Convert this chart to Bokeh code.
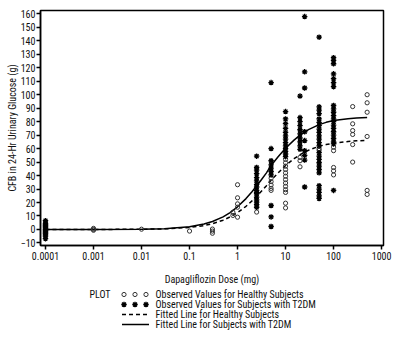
from bokeh.plotting import figure
from bokeh.layouts import column
from bokeh.models import FixedTicker, Range1d
from bokeh.core.properties import value
from bokeh.embed import file_html
from bokeh.resources import INLINE

FONT = "'Roboto Condensed', 'Liberation Sans Narrow', 'DejaVu Sans Condensed', sans-serif"

# ---- observed values: healthy subjects (dose in mg, change from baseline in g) ----
healthy_dose = (
    [0.0001] * 10 + [0.001] * 3 + [0.01] + [0.1] + [0.3] * 3 + [0.8] * 2
    + [1] * 5 + [2.5] + [5] * 5 + [10] * 13 + [20] * 3 + [50] * 2
    + [100] * 5 + [250] * 6 + [500] * 6
)
healthy_cfb = (
    [5.5, 4.0, 3.0, 2.0, 1.0, 0.0, -1.0, -2.0, -3.0, -4.5]
    + [0.8, 0.0, -0.6]
    + [0.2]
    + [-1.2]
    + [0.3, -1.2, -2.8]
    + [12.8, 10.4]
    + [33.2, 23.5, 19.0, 16.5, 9.1]
    + [12.9]
    + [38.0, 35.5, 33.0, 30.5, 29.0]
    + [52.0, 49.5, 47.0, 44.5, 42.0, 39.5, 37.0, 34.5, 32.0, 29.5, 27.5, 19.5, 16.0]
    + [53.5, 51.0, 46.5]
    + [60.0, 58.8]
    + [61.0, 58.5, 46.0, 43.5, 40.5]
    + [91.2, 78.4, 73.4, 70.5, 63.0, 50.0]
    + [100.0, 94.0, 87.0, 69.0, 29.0, 26.0]
)

# ---- observed values: subjects with T2DM ----
t2dm_dose = (
    [0.0001] * 12 + [2.5] * 16 + [5] * 10 + [10] * 13 + [20] * 10
    + [25] * 9 + [50] * 25 + [100] * 21
)
t2dm_cfb = (
    [6.5, 4.5, 3.5, 2.5, 1.5, 0.5, -0.5, -1.5, -2.5, -3.5, -5.0, -6.8]
    + [54.4, 46.0, 44.0, 41.5, 38.5, 36.0, 33.5, 31.5, 29.0, 27.5, 26.5, 24.0,
       22.0, 20.3, 18.5, 16.5]
    + [109.0, 60.0, 51.0, 48.0, 45.5, 43.0, 40.5, 17.8, 9.3, 2.2]
    + [87.5, 82.0, 78.5, 75.0, 72.0, 69.5, 67.0, 64.5, 62.0, 60.0, 58.0, 56.0, 54.0]
    + [99.0, 83.0, 80.0, 77.0, 74.0, 71.0, 68.0, 65.0, 62.0, 59.5]
    + [158.0, 117.0, 105.0, 72.5, 66.0, 58.5, 55.0, 51.5, 31.5]
    + [142.7, 91.0, 88.5, 86.0, 82.0, 79.5, 77.0, 74.5, 72.0, 69.5, 67.0, 64.5,
       62.0, 57.0, 54.5, 52.0, 49.5, 47.0, 44.5, 42.0, 32.5, 30.0, 27.5, 25.0, 23.0]
    + [127.5, 125.5, 123.0, 115.5, 112.0, 109.0, 106.0, 92.0, 89.5, 87.0, 84.5,
       82.0, 80.0, 77.5, 75.0, 72.5, 70.0, 67.5, 65.0, 63.5, 29.0]
)

# ---- fitted Emax curves, read at a set of doses ----
curve_dose = [0.0001, 0.001, 0.01, 0.03, 0.1, 0.2, 0.3, 0.5, 0.7, 1, 1.5, 2, 3, 4,
              5, 7, 10, 15, 20, 30, 50, 70, 100, 200, 300, 500]
fit_t2dm = [0.0, 0.0, 0.2, 0.6, 2.0, 4.0, 5.9, 9.3, 12.5, 16.8, 22.9, 28.0, 36.0, 42.0,
            47.5, 54.0, 60.3, 66.3, 70.0, 74.1, 77.8, 79.5, 80.8, 82.2, 82.7, 83.0]
fit_healthy = [0.0, 0.0, 0.15, 0.45, 1.5, 2.9, 4.3, 6.9, 9.3, 12.5, 17.2, 21.2, 27.6,
               32.5, 36.5, 42.0, 47.5, 52.5, 55.5, 58.8, 61.8, 63.0, 64.0, 65.3, 65.8, 66.1]

# ---- axis ticks ----
x_ticks = [0.0001, 0.001, 0.01, 0.1, 1, 10, 100, 1000]
x_tick_labels = ["0.0001", "0.001", "0.01", "0.1", "1", "10", "100", "1000"]
y_ticks = list(range(-10, 161, 10))

BORDER_L, BORDER_R = 40, 17
W = 400
H_PLOT, H_LEGEND = 287, 50

p = figure(width=W, height=H_PLOT, x_axis_type="log",
           x_range=Range1d(10 ** -4.104, 10 ** 3.04), y_range=Range1d(-11.9, 162.5),
           output_backend="svg", toolbar_location=None,
           min_border_left=BORDER_L, min_border_right=BORDER_R,
           min_border_top=10, min_border_bottom=42)
p.xgrid.visible = False
p.ygrid.visible = False
p.outline_line_color = "black"
p.outline_line_width = 1.5

p.xaxis.ticker = FixedTicker(ticks=x_ticks)
p.xaxis.major_label_overrides = {t: s for t, s in zip(x_ticks, x_tick_labels)}
p.yaxis.ticker = FixedTicker(ticks=y_ticks)
p.xaxis.axis_label = "Dapagliflozin Dose (mg)"
p.yaxis.axis_label = "CFB in 24-Hr Urinary Glucose (g)"
for ax in (p.xaxis[0], p.yaxis[0]):
    ax.axis_line_width = 1.5
    ax.major_tick_line_width = 1.5
    ax.major_tick_out = 4
    ax.major_tick_in = 0
    ax.minor_tick_line_color = None
    ax.major_label_text_font = FONT
    ax.major_label_text_font_size = "10px"
    ax.major_label_text_color = "#111111"
    ax.major_label_standoff = 2
    ax.axis_label_text_font = FONT
    ax.axis_label_text_font_size = "10px"
    ax.axis_label_text_font_style = "normal"
    ax.axis_label_text_color = "#111111"
p.xaxis.axis_label_standoff = 11
p.yaxis.axis_label_standoff = 0
p.yaxis.major_label_standoff = 1

p.line(curve_dose, fit_healthy, line_color="black", line_width=1.5, line_dash="4 3")
p.line(curve_dose, fit_t2dm, line_color="black", line_width=1.5)
p.scatter(healthy_dose, healthy_cfb, marker="circle", size=4.2, fill_color=None,
          line_color="#333333", line_width=1)
p.scatter(t2dm_dose, t2dm_cfb, marker="circle", size=2.6, fill_color="black", line_color=None)
p.scatter(t2dm_dose, t2dm_cfb, marker="asterisk", size=5.5, line_color="black", line_width=1.3)

# ---- legend panel (x in page pixels: frame spans the same columns as the plot) ----
lg = figure(width=W, height=H_LEGEND, x_range=Range1d(BORDER_L, W - BORDER_R),
            y_range=Range1d(H_LEGEND, 0),
            output_backend="svg", toolbar_location=None,
            x_axis_location=None, y_axis_location=None,
            min_border_left=BORDER_L, min_border_right=BORDER_R,
            min_border_top=0, min_border_bottom=0)
lg.grid.visible = False
lg.outline_line_color = None

rows_y = [7, 17, 27, 37]
labels = ["Observed Values for Healthy Subjects",
          "Observed Values for Subjects with T2DM",
          "Fitted Line for Healthy Subjects",
          "Fitted Line for Subjects with T2DM"]
sym_x = [123.5, 134.5, 145.5]
lg.text([89], [rows_y[0]], text=["PLOT"], text_font=value(FONT), text_font_size="10px",
        text_baseline="middle", text_color="#111111")
lg.text([155] * 4, rows_y, text=labels, text_font=value(FONT), text_font_size="10px",
        text_baseline="middle", text_color="#111111")
lg.scatter(sym_x, [rows_y[0]] * 3, marker="circle", size=4.2, fill_color=None,
           line_color="#333333", line_width=1)
lg.scatter(sym_x, [rows_y[1]] * 3, marker="circle", size=2.6, fill_color="black", line_color=None)
lg.scatter(sym_x, [rows_y[1]] * 3, marker="asterisk", size=5.5, line_color="black", line_width=1.3)
lg.line([121.5, 148.5], [rows_y[2]] * 2, line_color="black", line_width=1.5, line_dash="4 3")
lg.line([121.5, 148.5], [rows_y[3]] * 2, line_color="black", line_width=1.5)

layout = column(p, lg)
open("out.html", "w").write(file_html(layout, INLINE))
